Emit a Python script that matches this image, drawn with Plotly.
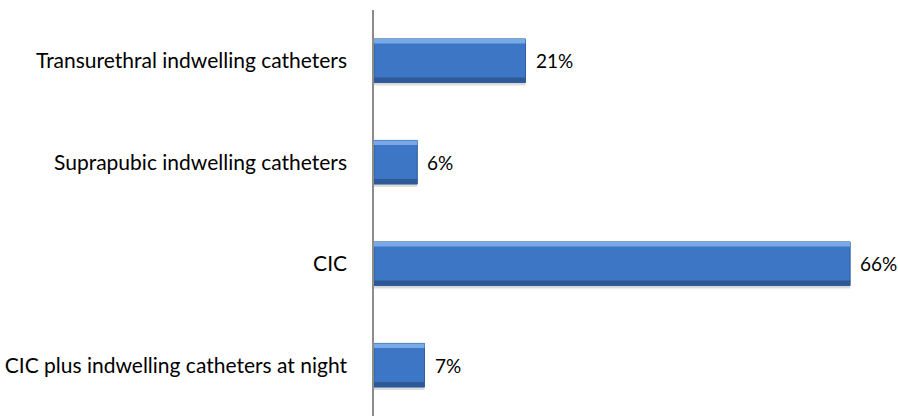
import plotly.graph_objects as go

categories = [
    "Transurethral indwelling catheters",
    "Suprapubic indwelling catheters",
    "CIC",
    "CIC plus indwelling catheters at night",
]
shares = [21, 6, 66, 7]
labels = ["21%", "6%", "66%", "7%"]

FONT = "Lato"
TICK_SIZE = 21
VALUE_SIZE = 19
BAR_W = 0.43

fig = go.Figure()

# soft drop shadow under each bar
fig.add_trace(go.Bar(
    y=categories, x=shares, orientation="h",
    width=BAR_W, offset=-BAR_W / 2 + 0.03,
    marker=dict(color="rgba(120,120,120,0.25)", line=dict(width=0)),
    hoverinfo="skip", showlegend=False,
))
# main bar body
fig.add_trace(go.Bar(
    y=categories, x=shares, orientation="h",
    width=BAR_W, offset=-BAR_W / 2,
    marker=dict(color="#3C76C4", line=dict(color="#2F5F9E", width=1)),
    showlegend=False,
))
# lighter bevel along the top edge
fig.add_trace(go.Bar(
    y=categories, x=shares, orientation="h",
    width=0.045, offset=-BAR_W / 2,
    marker=dict(color="#79AAE8", line=dict(width=0)),
    hoverinfo="skip", showlegend=False,
))
# darker bevel along the bottom edge
fig.add_trace(go.Bar(
    y=categories, x=shares, orientation="h",
    width=0.05, offset=BAR_W / 2 - 0.05,
    marker=dict(color="#2D5A97", line=dict(width=0)),
    hoverinfo="skip", showlegend=False,
))

# value labels just past the end of each bar
for cat, val, lab in zip(categories, shares, labels):
    fig.add_annotation(
        x=val, y=cat, text=lab, showarrow=False,
        xanchor="left", yanchor="middle", xshift=8,
        font=dict(family=FONT, size=VALUE_SIZE, color="#000000"),
    )

fig.update_layout(
    width=898, height=416,
    margin=dict(l=374, r=19, t=10, b=0),
    paper_bgcolor="white", plot_bgcolor="white",
    barmode="overlay",
    font=dict(family=FONT, size=TICK_SIZE, color="#000000"),
)
fig.update_xaxes(
    range=[0, 70], visible=False, showgrid=False, zeroline=False,
)
fig.update_yaxes(
    categoryorder="array", categoryarray=categories, autorange="reversed",
    showline=True, linecolor="#8C8C8C", linewidth=1.5,
    showgrid=False, ticks="", ticklabelstandoff=21,
    tickfont=dict(family=FONT, size=TICK_SIZE, color="#000000"),
)

fig.write_html("out.html")
